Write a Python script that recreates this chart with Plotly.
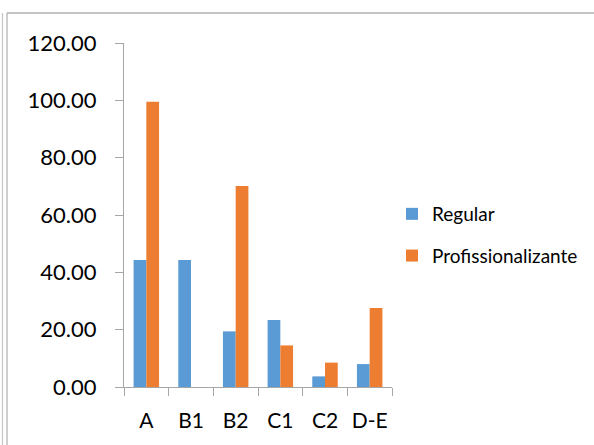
import plotly.graph_objects as go

# Categories and series values
categories = ["A", "B1", "B2", "C1", "C2", "D-E"]
regular = [44.3, 44.3, 19.4, 23.4, 3.7, 8.0]
profissionalizante = [99.5, None, 70.1, 14.5, 8.5, 27.6]
y_ticks = [0, 20, 40, 60, 80, 100, 120]

W, H = 594, 445
L, R, T, B = 124, 202, 43, 58

BLUE = "#5B9BD5"
ORANGE = "#ED7D31"
AXIS = "#a6a6a6"
FONT = "Lato"

fig = go.Figure()
fig.add_trace(go.Bar(name="Regular", x=categories, y=regular,
                     marker=dict(color=BLUE, line=dict(width=0)),
                     legendgroup="r"))
fig.add_trace(go.Bar(name="Profissionalizante", x=categories, y=profissionalizante,
                     marker=dict(color=ORANGE, line=dict(width=0)),
                     legendgroup="p"))

pw = W - L - R
ph = H - T - B


def px_x(p):
    return (p - L) / pw


def px_y(p):
    return 1 - (p - T) / ph


# outer frame lines
frame = [
    dict(x0=px_x(2.5), x1=px_x(2.5), y0=px_y(13), y1=px_y(445), color="#c8c8c8"),
    dict(x0=px_x(7), x1=px_x(7), y0=px_y(13), y1=px_y(445), color="#b4b4b4"),
    dict(x0=px_x(7), x1=px_x(594), y0=px_y(13), y1=px_y(13), color="#b0b0b0"),
]
for f in frame:
    fig.add_shape(type="line", xref="paper", yref="paper",
                  x0=f["x0"], x1=f["x1"], y0=f["y0"], y1=f["y1"],
                  line=dict(color=f["color"], width=1.3), layer="above")

fig.update_layout(
    width=W, height=H,
    margin=dict(l=L, r=R, t=T, b=B, autoexpand=False),
    paper_bgcolor="white", plot_bgcolor="white",
    barmode="group", bargap=0.43, bargroupgap=0,
    font=dict(family=FONT, color="#000000"),
    showlegend=True,
    legend=dict(
        x=px_x(392), y=px_y(195), xanchor="left", yanchor="top",
        font=dict(family=FONT, size=19, color="#000000"),
        traceorder="grouped", tracegroupgap=14,
        bgcolor="rgba(0,0,0,0)",
    ),
)

fig.update_xaxes(
    type="category",
    showline=True, linecolor=AXIS, linewidth=1.3,
    ticks="outside", tickson="boundaries", ticklen=8, tickcolor=AXIS, tickwidth=1.3,
    tickfont=dict(family=FONT, size=21, color="#000000"),
    tickangle=0, automargin=False,
    ticklabelstandoff=15,
    showgrid=False, zeroline=False,
)
fig.update_yaxes(
    range=[0, 120],
    tickvals=y_ticks, tickformat=".2f",
    showline=True, linecolor=AXIS, linewidth=1.3,
    ticks="outside", ticklen=8, tickcolor=AXIS, tickwidth=1.3,
    tickfont=dict(family=FONT, size=22, color="#000000"),
    automargin=False,
    ticklabelstandoff=14,
    showgrid=False, zeroline=False,
)

fig.write_html("out.html")
